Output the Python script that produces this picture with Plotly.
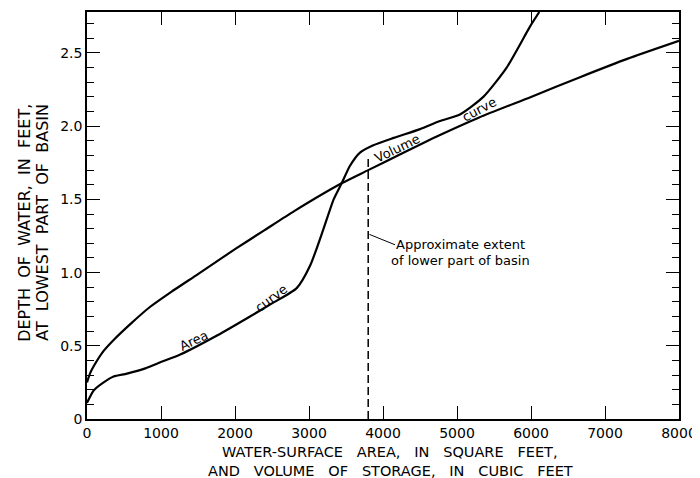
import plotly.graph_objects as go

# ---- data ----
volume_x = [0, 40, 90, 225, 360, 600, 850, 1100, 1500, 2000, 2400, 2800, 3441, 3800, 4200, 4770, 5300, 6000, 6662, 7300, 8000]
volume_y = [0.25, 0.31, 0.36, 0.465, 0.54, 0.655, 0.765, 0.855, 0.99, 1.16, 1.29, 1.42, 1.61, 1.70, 1.80, 1.94, 2.06, 2.20, 2.335, 2.46, 2.583]

area_x = [0, 90, 225, 360, 540, 788, 990, 1260, 1757, 2203, 2500, 2834, 3017, 3197, 3333, 3441, 3554, 3689, 3869, 4144, 4500, 4770, 5040, 5356, 5671, 5986, 6112]
area_y = [0.11, 0.195, 0.25, 0.29, 0.31, 0.346, 0.387, 0.44, 0.57, 0.70, 0.79, 0.894, 1.05, 1.30, 1.50, 1.61, 1.73, 1.82, 1.87, 1.92, 1.98, 2.035, 2.08, 2.20, 2.40, 2.68, 2.78]

lower_basin_extent = 3800
lower_basin_top = 1.80

x_tickvals = [0, 1000, 2000, 3000, 4000, 5000, 6000, 7000, 8000]
x_ticktext = ["0", "1000", "2000", "3000", "4000", "5000", "6000", "7000", "8000"]
y_tickvals = [0, 0.5, 1.0, 1.5, 2.0, 2.5]
y_ticktext = ["0", "0.5", "1.0", "1.5", "2.0", "2.5"]

x_title_lines = ["WATER-SURFACE AREA, IN SQUARE FEET,", "AND VOLUME OF STORAGE, IN CUBIC FEET"]
y_title_lines = ["DEPTH OF WATER, IN FEET,", "AT LOWEST PART OF BASIN"]

FONT = "DejaVu Sans"


def spaced(s, n=1):
    return s.replace(" ", " " + "\u00a0" * n)


fig = go.Figure()
fig.add_trace(go.Scatter(x=volume_x, y=volume_y, mode="lines",
                         line=dict(color="black", width=2.2, shape="spline", smoothing=0.6),
                         showlegend=False, hoverinfo="skip"))
fig.add_trace(go.Scatter(x=area_x, y=area_y, mode="lines",
                         line=dict(color="black", width=2.2, shape="spline", smoothing=0.6),
                         showlegend=False, hoverinfo="skip"))
fig.add_trace(go.Scatter(x=[lower_basin_extent, lower_basin_extent], y=[0, lower_basin_top], mode="lines",
                         line=dict(color="black", width=1.5, dash="8px,4px"),
                         showlegend=False, hoverinfo="skip"))

axis_common = dict(showgrid=False, zeroline=False, showline=True, linecolor="black", linewidth=1.5,
                   mirror="ticks", ticks="inside", tickcolor="black", tickwidth=1.3,
                   tickfont=dict(family=FONT, size=14, color="black"))

fig.update_xaxes(range=[0, 8000], tickvals=x_tickvals, ticktext=x_ticktext, ticklen=13, **axis_common)
fig.update_yaxes(range=[0, 2.78], tickvals=y_tickvals, ticktext=y_ticktext, ticklen=13,
                 minor=dict(dtick=0.1, tick0=0, ticks="inside", ticklen=7, tickcolor="black", tickwidth=1.2),
                 **axis_common)

annos = [
    dict(x=1446, y=0.534, text="Area", textangle=-25),
    dict(x=2486, y=0.824, text="curve", textangle=-37),
    dict(x=4189, y=1.85, text="Volume", textangle=-26),
    dict(x=5297, y=2.115, text="curve", textangle=-28),
]
for a in annos:
    fig.add_annotation(x=a["x"], y=a["y"], xref="x", yref="y", text=a["text"], textangle=a["textangle"],
                       showarrow=False, font=dict(family=FONT, size=13, color="black"))

fig.add_annotation(x=4162, y=1.19, ax=3797, ay=1.265, xref="x", yref="y", axref="x", ayref="y",
                   text="", showarrow=True, arrowhead=0, arrowwidth=1, arrowcolor="black")
fig.add_annotation(x=4149, y=1.19, xref="x", yref="y", xanchor="left", yanchor="middle",
                   text="Approximate extent", showarrow=False,
                   font=dict(family=FONT, size=13, color="black"))
fig.add_annotation(x=4085, y=1.085, xref="x", yref="y", xanchor="left", yanchor="middle",
                   text="of lower part of basin", showarrow=False,
                   font=dict(family=FONT, size=13, color="black"))

# axis titles (two lines each, placed individually)
for txt, ys in zip(x_title_lines, [-33, -52]):
    fig.add_annotation(x=0.512, y=0, xref="paper", yref="paper", yanchor="middle", yshift=ys,
                       text=spaced(txt, 2), showarrow=False, borderpad=0,
                       font=dict(family=FONT, size=14.5, color="black"))
for txt, xs in zip(y_title_lines, [-62, -44]):
    fig.add_annotation(x=0, y=0.482, xref="paper", yref="paper", xanchor="center", xshift=xs,
                       text=spaced(txt, 1), textangle=-90, showarrow=False, borderpad=0,
                       font=dict(family=FONT, size=16, color="black"))

# page body has an 8px margin; size the figure so the plot lands where the reference has it
fig.update_layout(width=692, height=470, margin=dict(l=79, r=21, t=2, b=59),
                  paper_bgcolor="white", plot_bgcolor="white", showlegend=False)

fig.write_html("out.html")
